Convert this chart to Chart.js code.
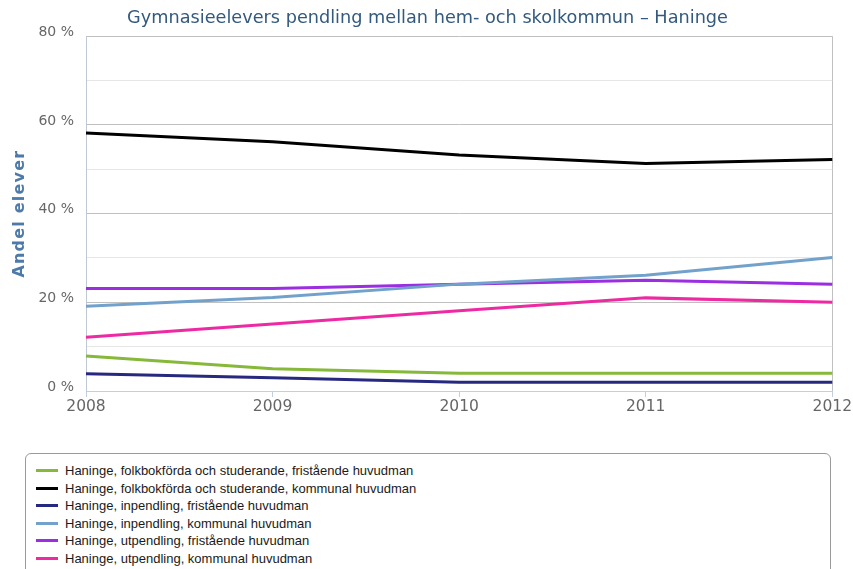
<!DOCTYPE html>
<html>
<head>
<meta charset="utf-8">
<script src="https://cdn.jsdelivr.net/npm/chart.js@4/dist/chart.umd.min.js"></script>
<style>
  html, body { margin: 0; padding: 0; background: #fff; }
  #wrap { position: relative; width: 853px; height: 569px; overflow: hidden; }
  #c { position: absolute; left: 0; top: 0; }
  #legend { position: absolute; left: 25px; top: 453px; width: 806px; height: 140px;
    border: 1px solid #9a9a9a; border-radius: 6px; box-sizing: border-box;
    padding-top: 8px; font-family: "Liberation Sans", Arial, sans-serif; font-size: 13px; color: #1a1a1a; }
  .item { display: flex; align-items: center; height: 17.5px; white-space: nowrap; }
  .sw { width: 22px; height: 3px; margin-left: 10px; margin-right: 7px; }
</style>
</head>
<body>
<div id="wrap">
  <canvas id="c" width="853" height="440"></canvas>
  <div id="legend"></div>
</div>
<script>
const years = ['2008', '2009', '2010', '2011', '2012'];
const seriesNames = [
  'Haninge, folkbokförda och studerande, fristående huvudman',
  'Haninge, folkbokförda och studerande, kommunal huvudman',
  'Haninge, inpendling, fristående huvudman',
  'Haninge, inpendling, kommunal huvudman',
  'Haninge, utpendling, fristående huvudman',
  'Haninge, utpendling, kommunal huvudman'
];
const folkFri = [7.9, 5.0, 4.0, 4.0, 4.0];
const folkKom = [58.2, 56.2, 53.2, 51.3, 52.2];
const inFri = [3.9, 3.0, 2.0, 2.0, 2.0];
const inKom = [19.1, 21.1, 24.1, 26.1, 30.1];
const utFri = [23.1, 23.1, 24.1, 25.0, 24.1];
const utKom = [12.1, 15.1, 18.1, 21.0, 20.0];
const yTicks = [0, 20, 40, 60, 80];

const colors = ['#86b83a', '#000000', '#27287f', '#72a2cb', '#9a2ee0', '#ee2aa2'];
const values = [folkFri, folkKom, inFri, inKom, utFri, utKom];

const datasets = seriesNames.map((n, i) => ({
  label: n,
  data: values[i],
  borderColor: colors[i],
  backgroundColor: colors[i],
  borderWidth: 3,
  pointRadius: 0,
  tension: 0,
  fill: false
}));

const spacedTitle = {
  id: 'spacedTitle',
  afterLayout(chart) {
    const s = chart.scales.y;
    if (s && !s._patched) {
      const orig = s.drawTitle.bind(s);
      s.drawTitle = function (a) {
        const ctx = chart.ctx;
        ctx.save();
        ctx.letterSpacing = '1.2px';
        orig(a);
        ctx.restore();
      };
      s._patched = true;
    }
  }
};

const chart = new Chart(document.getElementById('c'), {
  type: 'line',
  data: { labels: years, datasets },
  plugins: [spacedTitle],
  options: {
    responsive: false,
    animation: false,
    devicePixelRatio: 1,
    layout: { padding: { left: 22, right: 20, top: 0, bottom: 0 } },
    plugins: {
      legend: { display: false },
      tooltip: { enabled: false },
      title: {
        display: true,
        text: 'Gymnasieelevers pendling mellan hem- och skolkommun – Haninge',
        color: '#335a7e',
        font: { family: 'DejaVu Sans', size: 17.7, weight: 'normal' },
        padding: { top: 8, bottom: 7 }
      }
    },
    scales: {
      x: {
        offset: false,
        grid: {
          drawOnChartArea: true,
          color: ctx => ctx.index === years.length - 1 ? '#c0c0c0' : 'rgba(0,0,0,0)',
          tickColor: '#c0d0e0',
          tickLength: 6
        },
        border: { color: '#c0d0e0', width: 1 },
        ticks: { color: '#666666', font: { family: 'DejaVu Sans', size: 15.5 }, padding: 1, maxRotation: 0 },
        afterFit: s => { s.height = 49; }
      },
      y: {
        min: 0, max: 80,
        ticks: {
          stepSize: 10,
          color: '#666666',
          font: { family: 'DejaVu Sans', size: 14 },
          padding: 12,
          labelOffset: -4,
          callback: v => yTicks.includes(v) ? v + ' %' : ''
        },
        grid: {
          drawTicks: false,
          color: ctx => (ctx.tick && ctx.tick.value % 20 === 0) ? '#c0c0c0' : '#e6e6e6'
        },
        border: { color: '#c0c8d4', width: 1 },
        title: {
          display: true,
          text: 'Andel elever',
          color: '#4d7aa8',
          font: { family: 'DejaVu Sans', size: 16, weight: 'bold' },
          padding: { top: -12, bottom: 4 }
        },
        afterFit: s => { s.width = 64; }
      }
    }
  }
});

const lg = document.getElementById('legend');
chart.data.datasets.forEach(ds => {
  const it = document.createElement('div');
  it.className = 'item';
  const sw = document.createElement('span');
  sw.className = 'sw';
  sw.style.background = ds.borderColor;
  const tx = document.createElement('span');
  tx.textContent = ds.label;
  it.appendChild(sw); it.appendChild(tx);
  lg.appendChild(it);
});
</script>
</body>
</html>
